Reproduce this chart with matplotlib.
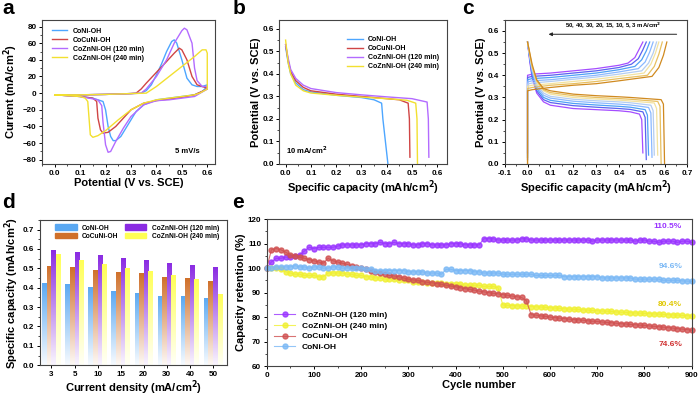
import numpy as np
import matplotlib
matplotlib.use("Agg")
import matplotlib.pyplot as plt
from matplotlib.colors import LinearSegmentedColormap
from matplotlib.patches import Rectangle
from matplotlib.ticker import AutoMinorLocator, MultipleLocator

plt.rcParams['font.family'] = ['Liberation Sans', 'DejaVu Sans']
plt.rcParams['font.weight'] = 'bold'
plt.rcParams['axes.labelweight'] = 'bold'
plt.rcParams['mathtext.default'] = 'regular'
plt.rcParams['axes.linewidth'] = 0.8

samples = ['CoNi-OH', 'CoCuNi-OH', 'CoZnNi-OH (120 min)', 'CoZnNi-OH (240 min)']
line_colors = ['#4da6ff', '#d04545', '#b36bff', '#f2e030']

# ---- a: CV curves (potential, current) closed loops ----
cv_coni_v = [0.0, 0.1, 0.2, 0.3, 0.34, 0.36, 0.38, 0.40, 0.42, 0.44, 0.46, 0.47, 0.48, 0.50, 0.52, 0.54, 0.56, 0.58, 0.60,
             0.60, 0.58, 0.55, 0.50, 0.45, 0.40, 0.35, 0.32, 0.30, 0.28, 0.26, 0.24, 0.23, 0.22, 0.21, 0.20, 0.19, 0.15, 0.10, 0.05, 0.0]
cv_coni_i = [-2, -2, -1.5, -0.5, 0, 3, 10, 22, 35, 50, 62, 64, 60, 40, 18, 10, 8, 8, 10,
             8, 2, -2, -4, -6, -8, -14, -22, -32, -42, -52, -57, -57, -52, -40, -20, -10, -6, -4, -3, -2]
cv_cocuni_v = [0.0, 0.1, 0.2, 0.3, 0.32, 0.34, 0.36, 0.40, 0.44, 0.47, 0.49, 0.50, 0.52, 0.54, 0.56, 0.60,
               0.60, 0.55, 0.50, 0.45, 0.40, 0.35, 0.30, 0.27, 0.24, 0.21, 0.19, 0.18, 0.17, 0.165, 0.15, 0.10, 0.0]
cv_cocuni_i = [-2, -2, -1.5, -0.5, 0, 5, 12, 25, 38, 48, 54, 52, 40, 20, 10, 6,
               5, -2, -5, -7, -9, -12, -20, -30, -40, -47, -48, -44, -30, -10, -6, -4, -2]
cv_zn120_v = [0.0, 0.1, 0.2, 0.3, 0.34, 0.36, 0.40, 0.44, 0.47, 0.50, 0.51, 0.52, 0.54, 0.55, 0.56, 0.58, 0.60,
              0.60, 0.55, 0.50, 0.45, 0.40, 0.35, 0.30, 0.27, 0.24, 0.22, 0.21, 0.20, 0.19, 0.185, 0.17, 0.10, 0.0]
cv_zn120_i = [-2, -2, -1.5, -0.5, 0, 5, 20, 40, 60, 75, 78, 76, 60, 30, 15, 8, 8,
              5, -4, -6, -8, -9, -14, -28, -42, -58, -70, -71, -62, -35, -15, -8, -4, -2]
cv_zn240_v = [0.0, 0.1, 0.2, 0.3, 0.36, 0.40, 0.45, 0.50, 0.55, 0.58, 0.595, 0.60, 0.60,
              0.57, 0.55, 0.50, 0.45, 0.40, 0.35, 0.30, 0.25, 0.20, 0.17, 0.15, 0.14, 0.135, 0.13, 0.12, 0.10, 0.0]
cv_zn240_i = [-2, -2, -1.5, -0.5, 0, 8, 20, 32, 44, 52, 52, 48, 5,
              0, -2, -4, -6, -8, -12, -20, -32, -45, -51, -53, -50, -30, -10, -6, -4, -2]

# ---- b: discharge at 10 mA/cm2 ----
gcd_cap = [0.0, 0.01, 0.02, 0.04, 0.07, 0.1, 0.2, 0.3]
gcd_coni_v = [0.52, 0.45, 0.40, 0.36, 0.33, 0.32, 0.305, 0.295]
gcd_coni_end_cap = [0.35, 0.38, 0.385, 0.405]
gcd_coni_end_v = [0.285, 0.27, 0.2, 0.0]
gcd_cocuni_v = [0.53, 0.46, 0.41, 0.37, 0.34, 0.325, 0.31, 0.30]
gcd_cocuni_end_cap = [0.4, 0.45, 0.485, 0.49, 0.492]
gcd_cocuni_end_v = [0.29, 0.285, 0.27, 0.2, 0.03]
gcd_zn120_v = [0.53, 0.47, 0.42, 0.38, 0.35, 0.335, 0.317, 0.307]
gcd_zn120_end_cap = [0.4, 0.5, 0.56, 0.565, 0.567]
gcd_zn120_end_v = [0.298, 0.29, 0.275, 0.2, 0.03]
gcd_zn240_v = [0.55, 0.45, 0.40, 0.35, 0.325, 0.315, 0.305, 0.297]
gcd_zn240_end_cap = [0.4, 0.48, 0.515, 0.52, 0.522]
gcd_zn240_end_v = [0.29, 0.283, 0.27, 0.2, 0.0]

# ---- c: rate GCD curves ----
c_rates = [50, 40, 30, 20, 15, 10, 5, 3]
c_colors = ['#a54dff', '#5b63f0', '#4fa0f5', '#8ab8ff', '#b4cdf0', '#f2e2a0', '#e8c060', '#d08a20']
c_dis_cap = [[0, 0.01, 0.02, 0.04, 0.07, 0.1, 0.2, 0.3, 0.4, 0.45, 0.49, 0.50, 0.505],
             [0, 0.01, 0.02, 0.04, 0.07, 0.1, 0.2, 0.3, 0.4, 0.45, 0.505, 0.515, 0.52],
             [0, 0.01, 0.02, 0.04, 0.07, 0.1, 0.2, 0.3, 0.4, 0.45, 0.515, 0.525, 0.53],
             [0, 0.01, 0.02, 0.04, 0.07, 0.1, 0.2, 0.3, 0.4, 0.45, 0.53, 0.54, 0.545],
             [0, 0.01, 0.02, 0.04, 0.07, 0.1, 0.2, 0.3, 0.4, 0.45, 0.54, 0.55, 0.555],
             [0, 0.01, 0.02, 0.04, 0.07, 0.1, 0.2, 0.3, 0.4, 0.45, 0.555, 0.565, 0.57],
             [0, 0.01, 0.02, 0.04, 0.07, 0.1, 0.2, 0.3, 0.4, 0.45, 0.57, 0.58, 0.585],
             [0, 0.01, 0.02, 0.04, 0.07, 0.1, 0.2, 0.3, 0.4, 0.45, 0.585, 0.595, 0.6]]
c_dis_v = [[0.55, 0.46, 0.39, 0.32, 0.28, 0.265, 0.25, 0.245, 0.24, 0.235, 0.225, 0.2, 0.05],
           [0.55, 0.47, 0.40, 0.33, 0.29, 0.277, 0.263, 0.256, 0.25, 0.246, 0.235, 0.21, 0.02],
           [0.55, 0.475, 0.41, 0.34, 0.30, 0.287, 0.273, 0.266, 0.26, 0.256, 0.245, 0.22, 0.04],
           [0.55, 0.48, 0.42, 0.35, 0.31, 0.297, 0.283, 0.276, 0.27, 0.266, 0.255, 0.23, 0.03],
           [0.55, 0.485, 0.43, 0.36, 0.32, 0.305, 0.292, 0.285, 0.28, 0.276, 0.265, 0.24, 0.04],
           [0.55, 0.49, 0.435, 0.37, 0.33, 0.315, 0.30, 0.293, 0.288, 0.284, 0.275, 0.25, 0.04],
           [0.55, 0.495, 0.44, 0.375, 0.335, 0.322, 0.308, 0.30, 0.295, 0.292, 0.282, 0.26, 0.0],
           [0.55, 0.50, 0.45, 0.38, 0.34, 0.33, 0.315, 0.308, 0.303, 0.30, 0.29, 0.27, 0.0]]
c_chg_cap = [[0, 0, 0.02, 0.1, 0.2, 0.3, 0.4, 0.44, 0.47, 0.49, 0.505],
             [0, 0, 0.02, 0.1, 0.2, 0.3, 0.4, 0.455, 0.485, 0.505, 0.52],
             [0, 0, 0.02, 0.1, 0.2, 0.3, 0.4, 0.47, 0.50, 0.52, 0.535],
             [0, 0, 0.02, 0.1, 0.2, 0.3, 0.4, 0.485, 0.515, 0.535, 0.55],
             [0, 0, 0.02, 0.1, 0.2, 0.3, 0.4, 0.50, 0.53, 0.55, 0.565],
             [0, 0, 0.02, 0.1, 0.2, 0.3, 0.4, 0.51, 0.54, 0.56, 0.575],
             [0, 0, 0.02, 0.1, 0.2, 0.3, 0.4, 0.525, 0.555, 0.575, 0.59],
             [0, 0, 0.02, 0.1, 0.2, 0.3, 0.4, 0.545, 0.575, 0.595, 0.61]]
c_chg_v = [[0.05, 0.40, 0.405, 0.41, 0.42, 0.43, 0.445, 0.455, 0.48, 0.52, 0.55],
           [0.02, 0.39, 0.395, 0.40, 0.41, 0.42, 0.435, 0.45, 0.475, 0.515, 0.55],
           [0.03, 0.38, 0.385, 0.39, 0.40, 0.41, 0.425, 0.44, 0.47, 0.51, 0.55],
           [0.02, 0.37, 0.375, 0.38, 0.39, 0.40, 0.415, 0.43, 0.46, 0.505, 0.55],
           [0.04, 0.36, 0.365, 0.372, 0.382, 0.392, 0.405, 0.42, 0.455, 0.50, 0.55],
           [0.03, 0.35, 0.355, 0.362, 0.372, 0.382, 0.395, 0.41, 0.45, 0.50, 0.55],
           [0.0, 0.34, 0.345, 0.355, 0.362, 0.372, 0.385, 0.40, 0.44, 0.495, 0.55],
           [0.0, 0.33, 0.335, 0.345, 0.355, 0.362, 0.375, 0.395, 0.435, 0.49, 0.55]]

# ---- d: specific capacity vs current density ----
current_density = ['3', '5', '10', '15', '20', '30', '40', '50']
cap_coni = [0.425, 0.42, 0.405, 0.383, 0.372, 0.358, 0.355, 0.347]
cap_cocuni = [0.513, 0.505, 0.492, 0.483, 0.474, 0.458, 0.448, 0.437]
cap_zn120 = [0.597, 0.583, 0.568, 0.555, 0.545, 0.527, 0.517, 0.507]
cap_zn240 = [0.575, 0.545, 0.522, 0.503, 0.488, 0.468, 0.443, 0.368]
bar_colors = ['#5aa8f2', '#d0702a', '#8a2be2', '#ffff55']

# ---- e: cycling (every 10 cycles) ----
cycles = list(range(0, 901, 10))
ret_zn120 = [100, 102.5, 104, 104, 104.5, 104.5, 105, 105.5, 107, 108.5,
             108, 108.5, 108.5, 108.5, 108.5, 109, 109.5, 109.5, 109.5, 109.5,
             109.5, 110, 110, 110, 110.5, 110, 110, 110.5, 110, 110,
             110, 109.5, 109.5, 110, 110, 109.5, 109.5, 109.5, 109.5, 110,
             110, 110, 109.5, 109.5, 109.5, 109.5, 112, 112, 112, 111.5,
             111.5, 111.5, 111.5, 111.5, 112, 112, 111.5, 111.5, 111.5, 111.5,
             111.5, 111.5, 111.5, 111.5, 111.5, 111.5, 111.5, 111.5, 111.5, 111,
             111.5, 111.5, 111.5, 111.5, 111.5, 111.5, 111.5, 111.5, 111, 111.5,
             111.5, 111, 111, 110.5, 111, 111, 111, 110.5, 111, 111,
             110.5]
ret_zn240 = [100, 100, 100, 99.5, 98.5, 98, 97.5, 97.5, 97, 97,
             97, 96.5, 96.5, 98, 98, 98, 98, 97.5, 97.5, 97,
             97, 96.5, 96.5, 96, 96, 95.5, 95.5, 95.5, 95, 95,
             95, 94.5, 94.5, 94.5, 94, 94, 94, 94, 93.5, 93.5,
             93.5, 93.5, 93, 93, 93, 93, 92.5, 92.5, 92.5, 92,
             85, 84.8, 84.7, 84.6, 84.5, 84.4, 84.3, 84.2, 84.1, 84,
             83.8, 83.7, 83.6, 83.4, 83.3, 83.2, 83.1, 83, 82.9, 82.7,
             82.6, 82.5, 82.4, 82.3, 82.1, 82, 81.9, 81.8, 81.7, 81.6,
             81.5, 81.4, 81.3, 81.2, 81.1, 81, 80.9, 80.8, 80.7, 80.6,
             80.4]
ret_cocuni = [100, 107.5, 108, 107.5, 106.5, 105.5, 105, 104.5, 104, 103.5,
              103, 102.5, 102, 104, 103, 102.5, 102, 101.5, 101, 100.5,
              100, 99.5, 99, 98.5, 98, 97.5, 97, 96.8, 96.5, 96,
              95.5, 95.2, 95, 94.5, 94.2, 94, 93.7, 93.4, 93, 92.7,
              92.4, 92, 91.6, 91.3, 91, 90.6, 90.3, 90, 89.7, 89.5,
              89.2, 88.9, 88.6, 88.3, 88, 86.7, 81, 80.8, 80.5, 80.3,
              80, 79.8, 79.6, 79.4, 79.2, 79, 78.9, 78.7, 78.5, 78.3,
              78.2, 78, 77.8, 77.7, 77.5, 77.3, 77.2, 77, 76.9, 76.7,
              76.6, 76.4, 76.2, 76.1, 75.9, 75.7, 75.5, 75.3, 75.1, 74.9,
              74.6]
ret_coni = [100, 100, 100.5, 100.5, 100.5, 100.5, 101, 100.5, 100.5, 100,
            100.5, 100.5, 100, 100, 100.5, 100.5, 100, 100, 100, 100,
            100, 99.5, 99.5, 99, 99, 99, 99, 99, 99, 99,
            98.5, 98.5, 98.5, 98.5, 98, 98, 98, 97.5, 99.5, 99.5,
            99, 99, 99, 99, 98.5, 98.5, 98, 98, 98, 98,
            97.5, 97.5, 97.5, 97.5, 97.5, 97.5, 97.5, 97, 97, 97,
            97, 97, 97, 96.5, 96.5, 96.5, 96.5, 96.5, 96.5, 96.5,
            96.5, 96, 96, 96, 96, 96, 96, 96, 95.5, 95.5,
            95.5, 95.5, 95.5, 95.5, 95, 95, 95, 95, 94.8, 94.7,
            94.6]
final_labels = ['110.5%', '80.4%', '74.6%', '94.6%']
final_label_y = [117, 85, 69, 100.5]
e_colors = ['#9933ff', '#f0f030', '#d05050', '#7ab8f5']
e_text_colors = ['#9933ff', '#e0c800', '#d03030', '#7ab8f5']

fig = plt.figure(figsize=(7, 3.97), dpi=100)
ax_a = fig.add_axes([0.06, 0.587, 0.247, 0.363])
ax_b = fig.add_axes([0.399, 0.587, 0.24, 0.363])
ax_c = fig.add_axes([0.721, 0.587, 0.261, 0.363])
ax_d = fig.add_axes([0.057, 0.08, 0.267, 0.366])
ax_e = fig.add_axes([0.381, 0.078, 0.607, 0.37])

lab_fs = 8
tick_fs = 5.8
for ax in [ax_a, ax_b, ax_c, ax_d, ax_e]:
    ax.tick_params(labelsize=tick_fs, width=0.7, length=2.5, direction='out', pad=1.5)
    ax.tick_params(which='minor', width=0.5, length=1.5)
    for sp in ax.spines.values():
        sp.set_color('#444444')

# a
cv_v = [cv_coni_v, cv_cocuni_v, cv_zn120_v, cv_zn240_v]
cv_i = [cv_coni_i, cv_cocuni_i, cv_zn120_i, cv_zn240_i]
for v, i, c, name in zip(cv_v, cv_i, line_colors, samples):
    ax_a.plot(v, i, color=c, lw=1.0, label=name)
ax_a.set_xlim(-0.05, 0.63)
ax_a.set_ylim(-85, 88)
ax_a.xaxis.set_major_locator(MultipleLocator(0.1))
ax_a.yaxis.set_major_locator(MultipleLocator(20))
ax_a.xaxis.set_minor_locator(AutoMinorLocator(2))
ax_a.yaxis.set_minor_locator(AutoMinorLocator(2))
ax_a.xaxis.set_major_formatter(plt.FormatStrFormatter('%.1f'))
ax_a.set_xlabel('Potential (V vs. SCE)', fontsize=lab_fs, labelpad=1)
ax_a.set_ylabel('Current (mA/cm$^{\\mathbf{2}}$)', fontsize=lab_fs)
ax_a.yaxis.set_label_coords(-0.125, 0.5)
ax_a.legend(loc='upper left', fontsize=5, frameon=False, handlelength=2.2, labelspacing=0.3,
            bbox_to_anchor=(0.02, 0.99))
ax_a.text(0.57, -70, '5 mV/s', fontsize=5.5, ha='right', va='center')

# b
b_v = [gcd_coni_v, gcd_cocuni_v, gcd_zn120_v, gcd_zn240_v]
b_ec = [gcd_coni_end_cap, gcd_cocuni_end_cap, gcd_zn120_end_cap, gcd_zn240_end_cap]
b_ev = [gcd_coni_end_v, gcd_cocuni_end_v, gcd_zn120_end_v, gcd_zn240_end_v]
for v, ec, ev, c, name in zip(b_v, b_ec, b_ev, line_colors, samples):
    ax_b.plot(gcd_cap + ec, v + ev, color=c, lw=1.0, label=name)
ax_b.set_xlim(-0.025, 0.64)
ax_b.set_ylim(0, 0.64)
ax_b.xaxis.set_major_locator(MultipleLocator(0.1))
ax_b.yaxis.set_major_locator(MultipleLocator(0.1))
ax_b.xaxis.set_minor_locator(AutoMinorLocator(2))
ax_b.yaxis.set_minor_locator(AutoMinorLocator(2))
ax_b.xaxis.set_major_formatter(plt.FormatStrFormatter('%.1f'))
ax_b.yaxis.set_major_formatter(plt.FormatStrFormatter('%.1f'))
ax_b.set_xlabel('Specific capacity (mAh/cm$^{\\mathbf{2}}$)', fontsize=lab_fs, labelpad=1)
ax_b.set_ylabel('Potential (V vs. SCE)', fontsize=lab_fs, labelpad=1)
ax_b.legend(loc='upper right', fontsize=5, frameon=False, handlelength=2.2, labelspacing=0.3,
            bbox_to_anchor=(0.99, 0.93))
ax_b.text(0.0, 0.06, '10 mA/cm$^{\\mathbf{2}}$', fontsize=5.5, ha='left', va='center')

# c
for k in range(len(c_rates)):
    ax_c.plot(c_dis_cap[k], c_dis_v[k], color=c_colors[k], lw=0.9)
    ax_c.plot(c_chg_cap[k], c_chg_v[k], color=c_colors[k], lw=0.9)
ax_c.set_xlim(-0.1, 0.7)
ax_c.set_ylim(0, 0.65)
ax_c.xaxis.set_major_locator(MultipleLocator(0.1))
ax_c.yaxis.set_major_locator(MultipleLocator(0.1))
ax_c.xaxis.set_minor_locator(AutoMinorLocator(2))
ax_c.yaxis.set_minor_locator(AutoMinorLocator(2))
ax_c.xaxis.set_major_formatter(plt.FormatStrFormatter('%.1f'))
ax_c.yaxis.set_major_formatter(plt.FormatStrFormatter('%.1f'))
ax_c.set_xlabel('Specific capacity (mAh/cm$^{\\mathbf{2}}$)', fontsize=lab_fs, labelpad=1)
ax_c.set_ylabel('Potential (V vs. SCE)', fontsize=lab_fs, labelpad=1)
ax_c.annotate('', xy=(0.08, 0.585), xytext=(0.665, 0.585),
              arrowprops=dict(arrowstyle='-|>', lw=0.7, color='#222222', mutation_scale=5))
ax_c.text(0.375, 0.6, ', '.join(str(r) for r in c_rates) + ' mA/cm$^{\\mathbf{2}}$',
          fontsize=4.3, ha='center', va='bottom')

# d
xd = np.arange(len(current_density))
bw = 0.2
all_caps = [cap_coni, cap_cocuni, cap_zn120, cap_zn240]
grad = np.linspace(0, 1, 100).reshape(-1, 1)
for j, (vals, col) in enumerate(zip(all_caps, bar_colors)):
    cmap = LinearSegmentedColormap.from_list('g%d' % j, ['#ffffff', col])
    bars = ax_d.bar(xd + (j - 1.5) * bw, vals, bw, color='none', edgecolor='none')
    for p in bars.patches:
        im = ax_d.imshow(grad, extent=[p.get_x(), p.get_x() + p.get_width(), 0, p.get_height()],
                         origin='lower', aspect='auto', cmap=cmap, vmin=-0.05, vmax=1, zorder=2)
        im.set_clip_path(p)
ax_d.set_xlim(-0.5, 7.6)
ax_d.set_ylim(0, 0.75)
ax_d.set_xticks(xd)
ax_d.set_xticklabels(current_density)
ax_d.yaxis.set_major_locator(MultipleLocator(0.1))
ax_d.yaxis.set_minor_locator(AutoMinorLocator(2))
ax_d.yaxis.set_major_formatter(plt.FormatStrFormatter('%.1f'))
ax_d.set_xlabel('Current density (mA/cm$^{\\mathbf{2}}$)', fontsize=lab_fs, labelpad=0.5)
ax_d.set_ylabel('Specific capacity (mAh/cm$^{\\mathbf{2}}$)', fontsize=lab_fs, labelpad=1)
handles = [Rectangle((0, 0), 1, 1, color=c) for c in bar_colors]
ax_d.legend(handles, samples, loc='upper center', ncol=2, fontsize=4.8, frameon=False,
            handlelength=3.2, handleheight=0.9, columnspacing=1.0, labelspacing=0.2,
            bbox_to_anchor=(0.52, 1.01))

# e
e_series = [ret_zn120, ret_zn240, ret_cocuni, ret_coni]
e_names = ['CoZnNi-OH (120 min)', 'CoZnNi-OH (240 min)', 'CoCuNi-OH', 'CoNi-OH']
for vals, c, name in zip(e_series, e_colors, e_names):
    ax_e.plot(cycles, vals, color=c, lw=0.8, marker='o', ms=3.6, mfc=c, mec=c,
              alpha=0.8, label=name, clip_on=False)
for txt, yv, c in zip(final_labels, final_label_y, e_text_colors):
    ax_e.text(880, yv, txt, color=c, fontsize=6, ha='right', va='center')
ax_e.set_xlim(0, 900)
ax_e.set_ylim(60, 120)
ax_e.xaxis.set_major_locator(MultipleLocator(100))
ax_e.yaxis.set_major_locator(MultipleLocator(10))
ax_e.xaxis.set_minor_locator(AutoMinorLocator(2))
ax_e.yaxis.set_minor_locator(AutoMinorLocator(2))
ax_e.set_xlabel('Cycle number', fontsize=lab_fs, labelpad=1)
ax_e.set_ylabel('Capacity retention (%)', fontsize=lab_fs, labelpad=1)
ax_e.legend(loc='lower left', fontsize=6, frameon=False, handlelength=2.5, labelspacing=0.35,
            bbox_to_anchor=(0.0, 0.05))

# panel letters
for x, y, s in [(0.003, 0.955, 'a'), (0.332, 0.955, 'b'), (0.66, 0.955, 'c'),
                (0.003, 0.465, 'd'), (0.332, 0.465, 'e')]:
    fig.text(x, y, s, fontsize=15, fontweight='bold', va='bottom')

plt.savefig('out.png', dpi=100)
